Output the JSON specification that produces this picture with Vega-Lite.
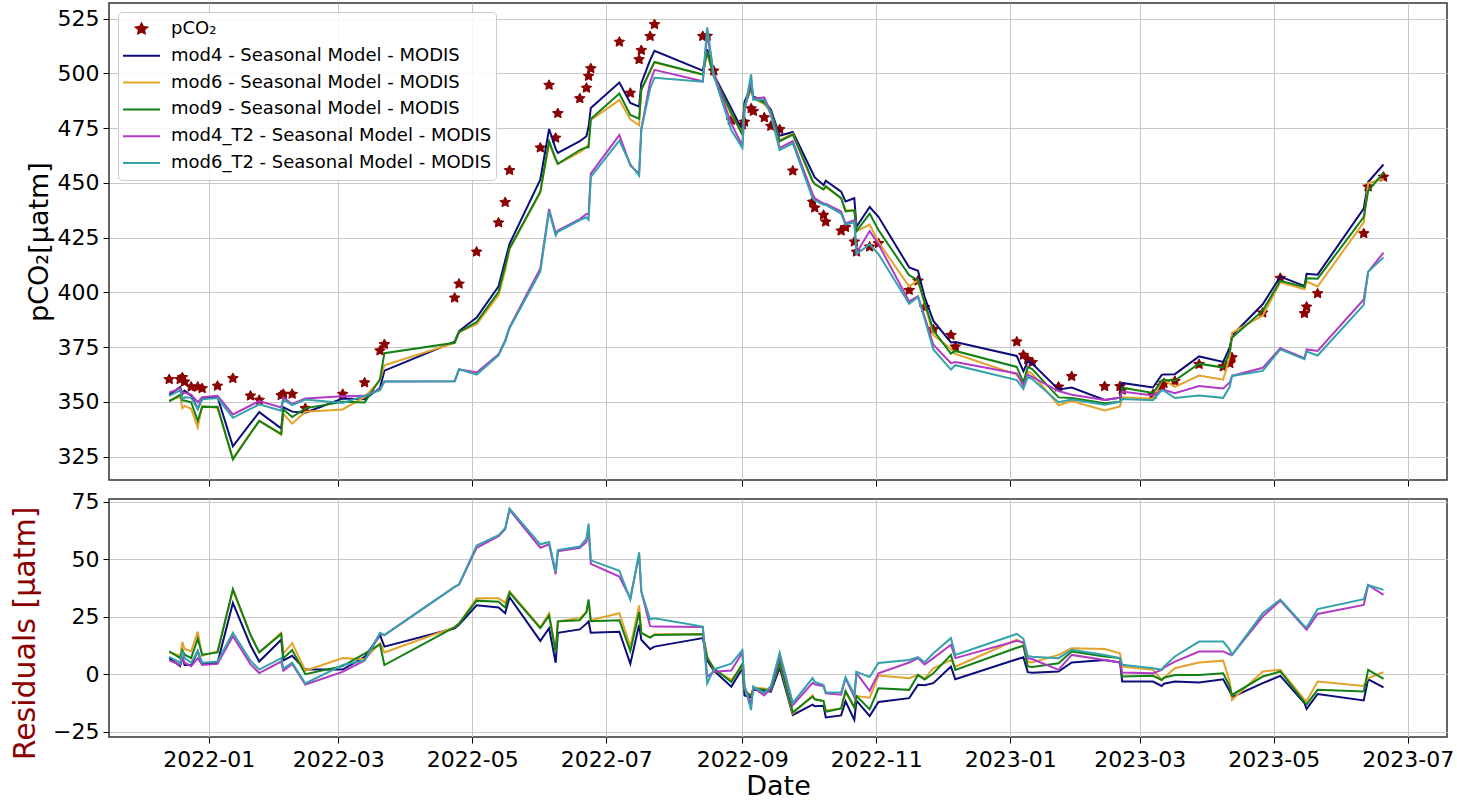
{
  "$schema": "https://vega.github.io/schema/vega-lite/v6.json",
  "background": "white",
  "padding": {"left": 9, "top": 2, "right": 0, "bottom": 0},
  "spacing": 19,
  "bounds": "flush",
  "config": {
    "font": "DejaVu Sans",
    "view": {"stroke": "#333333", "strokeWidth": 1.5},
    "axis": {
      "labelFont": "DejaVu Sans",
      "titleFont": "DejaVu Sans",
      "labelFontSize": 22,
      "titleFontSize": 27,
      "titleFontWeight": "normal",
      "labelColor": "#000000",
      "titleColor": "#000000",
      "tickColor": "#000000",
      "tickSize": 6,
      "tickWidth": 1,
      "labelPadding": 4,
      "domain": false,
      "gridColor": "#c8c8c8",
      "gridWidth": 1,
      "labelFlush": false,
      "labelOverlap": false,
      "labelBound": false
    },
    "legend": {
      "labelFont": "DejaVu Sans",
      "labelFontSize": 18,
      "labelColor": "#000000"
    }
  },
  "datasets": {
    "fit": [
      {"date": "2021-12-14", "pco2": 360.3, "mod4": 353.3, "mod6": 350.8, "mod9": 350.3, "mod4_T2": 354.3, "mod6_T2": 352.8},
      {"date": "2021-12-19", "pco2": 360.3, "mod4": 356.8, "mod6": 352.3, "mod9": 353.3, "mod4_T2": 356.3, "mod6_T2": 355.3},
      {"date": "2021-12-20", "pco2": 361.2, "mod4": 353.7, "mod6": 347.2, "mod9": 350.7, "mod4_T2": 354.2, "mod6_T2": 351.2},
      {"date": "2021-12-21", "pco2": 359.2, "mod4": 355.2, "mod6": 348.2, "mod9": 350.7, "mod4_T2": 354.2, "mod6_T2": 352.2},
      {"date": "2021-12-24", "pco2": 356.9, "mod4": 352.9, "mod6": 346.9, "mod9": 349.9, "mod4_T2": 353.4, "mod6_T2": 351.9},
      {"date": "2021-12-27", "pco2": 356.9, "mod4": 346.9, "mod6": 338.4, "mod9": 341.4, "mod4_T2": 349.9, "mod6_T2": 346.9},
      {"date": "2021-12-29", "pco2": 356.2, "mod4": 351.7, "mod6": 348.2, "mod9": 347.7, "mod4_T2": 352.2, "mod6_T2": 351.2},
      {"date": "2022-01-05", "pco2": 357.3, "mod4": 352.3, "mod6": 347.3, "mod9": 347.8, "mod4_T2": 352.8, "mod6_T2": 351.8},
      {"date": "2022-01-12", "pco2": 360.8, "mod4": 329.8, "mod6": 324.3, "mod9": 323.8, "mod4_T2": 344.3, "mod6_T2": 342.8},
      {"date": "2022-01-20", "pco2": 352.8, "mod4": 340.2, "mod6": 335.8, "mod9": 335.6, "mod4_T2": 348.4, "mod6_T2": 346.9},
      {"date": "2022-01-24", "pco2": 350.9, "mod4": 345.4, "mod6": 341.4, "mod9": 341.4, "mod4_T2": 350.4, "mod6_T2": 348.9},
      {"date": "2022-02-03", "pco2": 353.0, "mod4": 338.0, "mod6": 335.0, "mod9": 335.5, "mod4_T2": 347.5, "mod6_T2": 346.0},
      {"date": "2022-02-04", "pco2": 353.6, "mod4": 347.6, "mod6": 344.6, "mod9": 346.6, "mod4_T2": 352.1, "mod6_T2": 351.1},
      {"date": "2022-02-08", "pco2": 353.6, "mod4": 345.6, "mod6": 340.1, "mod9": 343.1, "mod4_T2": 349.1, "mod6_T2": 348.6},
      {"date": "2022-02-14", "pco2": 347.1, "mod4": 345.1, "mod6": 345.6, "mod9": 347.1, "mod4_T2": 351.6, "mod6_T2": 351.1},
      {"date": "2022-03-03", "pco2": 353.6, "mod4": 351.6, "mod6": 346.6, "mod9": 350.1, "mod4_T2": 352.6, "mod6_T2": 349.6},
      {"date": "2022-03-13", "pco2": 358.8, "mod4": 351.3, "mod6": 352.3, "mod9": 349.8, "mod4_T2": 352.8, "mod6_T2": 352.8},
      {"date": "2022-03-20", "pco2": 373.4, "mod4": 356.4, "mod6": 359.9, "mod9": 360.4, "mod4_T2": 355.9, "mod6_T2": 355.4},
      {"date": "2022-03-22", "pco2": 376.3, "mod4": 364.3, "mod6": 366.8, "mod9": 372.3, "mod4_T2": 359.3, "mod6_T2": 359.3},
      {"date": "2022-04-23", "pco2": 397.5, "mod4": 377.5, "mod6": 377.0, "mod9": 377.0, "mod4_T2": 359.5, "mod6_T2": 359.5},
      {"date": "2022-04-25", "pco2": 403.9, "mod4": 382.4, "mod6": 381.9, "mod9": 381.9, "mod4_T2": 364.9, "mod6_T2": 364.9},
      {"date": "2022-05-03", "pco2": 418.5, "mod4": 388.5, "mod6": 385.5, "mod9": 386.5, "mod4_T2": 363.5, "mod6_T2": 362.5},
      {"date": "2022-05-13", "pco2": 431.8, "mod4": 402.8, "mod6": 398.8, "mod9": 400.3, "mod4_T2": 371.8, "mod6_T2": 371.3},
      {"date": "2022-05-16", "pco2": 441.1, "mod4": 414.6, "mod6": 410.1, "mod9": 412.1, "mod4_T2": 378.1, "mod6_T2": 377.6},
      {"date": "2022-05-18", "pco2": 455.7, "mod4": 422.2, "mod6": 419.7, "mod9": 420.2, "mod4_T2": 384.2, "mod6_T2": 383.7},
      {"date": "2022-06-01", "pco2": 466.0, "mod4": 451.5, "mod6": 445.5, "mod9": 446.0, "mod4_T2": 411.0, "mod6_T2": 409.5},
      {"date": "2022-06-05", "pco2": 494.6, "mod4": 474.6, "mod6": 468.1, "mod9": 469.1, "mod4_T2": 438.1, "mod6_T2": 437.1},
      {"date": "2022-06-08", "pco2": 470.5, "mod4": 465.5, "mod6": 460.5, "mod9": 461.0, "mod4_T2": 427.0, "mod6_T2": 426.0},
      {"date": "2022-06-09", "pco2": 481.7, "mod4": 463.7, "mod6": 458.7, "mod9": 458.7, "mod4_T2": 428.2, "mod6_T2": 427.7},
      {"date": "2022-06-19", "pco2": 488.5, "mod4": 469.0, "mod6": 464.0, "mod9": 465.0, "mod4_T2": 433.5, "mod6_T2": 433.0},
      {"date": "2022-06-22", "pco2": 493.3, "mod4": 471.3, "mod6": 466.3, "mod9": 466.3, "mod4_T2": 435.8, "mod6_T2": 434.3},
      {"date": "2022-06-23", "pco2": 498.7, "mod4": 475.7, "mod6": 467.7, "mod9": 466.2, "mod4_T2": 435.7, "mod6_T2": 433.2},
      {"date": "2022-06-24", "pco2": 502.2, "mod4": 484.2, "mod6": 478.7, "mod9": 479.2, "mod4_T2": 454.2, "mod6_T2": 452.7},
      {"date": "2022-07-07", "pco2": 514.3, "mod4": 495.8, "mod6": 487.8, "mod9": 490.8, "mod4_T2": 471.8, "mod6_T2": 469.3},
      {"date": "2022-07-12", "pco2": 491.0, "mod4": 486.5, "mod6": 479.0, "mod9": 481.0, "mod4_T2": 458.0, "mod6_T2": 458.5},
      {"date": "2022-07-16", "pco2": 506.3, "mod4": 484.8, "mod6": 476.3, "mod9": 479.3, "mod4_T2": 454.3, "mod6_T2": 453.3},
      {"date": "2022-07-17", "pco2": 510.5, "mod4": 495.5, "mod6": 492.5, "mod9": 492.5, "mod4_T2": 474.5, "mod6_T2": 474.5},
      {"date": "2022-07-21", "pco2": 516.9, "mod4": 506.0, "mod6": 501.0, "mod9": 501.0, "mod4_T2": 496.0, "mod6_T2": 493.0},
      {"date": "2022-07-23", "pco2": 522.3, "mod4": 510.3, "mod6": 504.9, "mod9": 505.2, "mod4_T2": 501.6, "mod6_T2": 498.0},
      {"date": "2022-08-14", "pco2": 516.9, "mod4": 501.2, "mod6": 499.4, "mod9": 499.5, "mod4_T2": 496.4, "mod6_T2": 496.2},
      {"date": "2022-08-16", "pco2": 517.0, "mod4": 511.0, "mod6": 509.0, "mod9": 510.0, "mod4_T2": 518.0, "mod6_T2": 521.0},
      {"date": "2022-08-19", "pco2": 501.1, "mod4": 499.5, "mod6": 499.0, "mod9": 498.5, "mod4_T2": 500.0, "mod6_T2": 499.0},
      {"date": "2022-08-27", "pco2": 478.6, "mod4": 484.0, "mod6": 481.0, "mod9": 482.0, "mod4_T2": 477.0, "mod6_T2": 474.0},
      {"date": "2022-09-01", "pco2": 476.5, "mod4": 474.0, "mod6": 473.0, "mod9": 472.0, "mod4_T2": 467.0, "mod6_T2": 466.0},
      {"date": "2022-09-02", "pco2": 477.8, "mod4": 487.0, "mod6": 485.0, "mod9": 485.0, "mod4_T2": 483.0, "mod6_T2": 483.0},
      {"date": "2022-09-05", "pco2": 483.9, "mod4": 494.0, "mod6": 493.0, "mod9": 493.5, "mod4_T2": 497.0, "mod6_T2": 499.5},
      {"date": "2022-09-06", "pco2": 482.7, "mod4": 489.5, "mod6": 488.5, "mod9": 489.0, "mod4_T2": 488.5, "mod6_T2": 488.0},
      {"date": "2022-09-11", "pco2": 479.8, "mod4": 487.0, "mod6": 486.0, "mod9": 486.5, "mod4_T2": 489.0, "mod6_T2": 488.0},
      {"date": "2022-09-14", "pco2": 475.9, "mod4": 483.5, "mod6": 482.5, "mod9": 483.0, "mod4_T2": 482.0, "mod6_T2": 481.0},
      {"date": "2022-09-18", "pco2": 474.4, "mod4": 471.5, "mod6": 469.5, "mod9": 469.0, "mod4_T2": 466.0, "mod6_T2": 465.0},
      {"date": "2022-09-24", "pco2": 455.5, "mod4": 473.2, "mod6": 472.5, "mod9": 472.0, "mod4_T2": 469.0, "mod6_T2": 468.0},
      {"date": "2022-10-03", "pco2": 441.3, "mod4": 454.5, "mod6": 450.5, "mod9": 451.0, "mod4_T2": 445.0, "mod6_T2": 443.0},
      {"date": "2022-10-04", "pco2": 438.6, "mod4": 452.5, "mod6": 449.5, "mod9": 449.5, "mod4_T2": 443.0, "mod6_T2": 442.0},
      {"date": "2022-10-08", "pco2": 435.3, "mod4": 449.0, "mod6": 447.0, "mod9": 447.0, "mod4_T2": 440.5, "mod6_T2": 440.0},
      {"date": "2022-10-09", "pco2": 432.2, "mod4": 451.0, "mod6": 448.0, "mod9": 448.5, "mod4_T2": 440.5, "mod6_T2": 440.0},
      {"date": "2022-10-16", "pco2": 428.1, "mod4": 446.0, "mod6": 443.0, "mod9": 443.0, "mod4_T2": 437.0, "mod6_T2": 436.0},
      {"date": "2022-10-18", "pco2": 429.7, "mod4": 441.5, "mod6": 437.5, "mod9": 437.0, "mod4_T2": 431.5, "mod6_T2": 431.0},
      {"date": "2022-10-22", "pco2": 423.1, "mod4": 443.0, "mod6": 437.5, "mod9": 437.5, "mod4_T2": 433.0, "mod6_T2": 432.0},
      {"date": "2022-10-23", "pco2": 418.5, "mod4": 430.0, "mod6": 428.0, "mod9": 428.0, "mod4_T2": 418.0, "mod6_T2": 417.5},
      {"date": "2022-10-29", "pco2": 420.8, "mod4": 439.0, "mod6": 431.0, "mod9": 436.0, "mod4_T2": 428.0, "mod6_T2": 422.0},
      {"date": "2022-11-02", "pco2": 422.4, "mod4": 434.5, "mod6": 423.0, "mod9": 428.5, "mod4_T2": 422.0, "mod6_T2": 417.5},
      {"date": "2022-11-16", "pco2": 401.0, "mod4": 411.4, "mod6": 402.7, "mod9": 407.8, "mod4_T2": 395.9, "mod6_T2": 394.8},
      {"date": "2022-11-20", "pco2": 405.3, "mod4": 409.9, "mod6": 405.6, "mod9": 405.6, "mod4_T2": 398.3, "mod6_T2": 397.9},
      {"date": "2022-11-23", "pco2": 393.2, "mod4": 398.0, "mod6": 395.0, "mod9": 395.5, "mod4_T2": 389.0, "mod6_T2": 388.0},
      {"date": "2022-11-27", "pco2": 383.1, "mod4": 387.0, "mod6": 380.5, "mod9": 382.7, "mod4_T2": 376.1, "mod6_T2": 374.0},
      {"date": "2022-12-05", "pco2": 380.5, "mod4": 377.2, "mod6": 374.3, "mod9": 372.1, "mod4_T2": 367.7, "mod6_T2": 364.8},
      {"date": "2022-12-07", "pco2": 375.2, "mod4": 377.4, "mod6": 371.9, "mod9": 373.3, "mod4_T2": 368.2, "mod6_T2": 366.8},
      {"date": "2023-01-04", "pco2": 377.5, "mod4": 371.0, "mod6": 362.5, "mod9": 366.0, "mod4_T2": 363.0, "mod6_T2": 360.0},
      {"date": "2023-01-07", "pco2": 371.4, "mod4": 364.0, "mod6": 358.0, "mod9": 359.0, "mod4_T2": 357.5, "mod6_T2": 356.0},
      {"date": "2023-01-09", "pco2": 369.4, "mod4": 368.5, "mod6": 364.0, "mod9": 366.0, "mod4_T2": 362.5, "mod6_T2": 361.5},
      {"date": "2023-01-11", "pco2": 368.1, "mod4": 367.5, "mod6": 363.0, "mod9": 365.0, "mod4_T2": 361.5, "mod6_T2": 360.5},
      {"date": "2023-01-23", "pco2": 356.9, "mod4": 355.7, "mod6": 348.5, "mod9": 352.1, "mod4_T2": 355.0, "mod6_T2": 349.9},
      {"date": "2023-01-29", "pco2": 361.7, "mod4": 356.6, "mod6": 350.4, "mod9": 351.8, "mod4_T2": 353.3, "mod6_T2": 351.1},
      {"date": "2023-02-13", "pco2": 357.1, "mod4": 350.9, "mod6": 346.1, "mod9": 349.4, "mod4_T2": 350.9, "mod6_T2": 348.7},
      {"date": "2023-02-20", "pco2": 357.1, "mod4": 352.0, "mod6": 348.0, "mod9": 350.1, "mod4_T2": 352.0, "mod6_T2": 350.1},
      {"date": "2023-02-21", "pco2": 355.5, "mod4": 358.7, "mod6": 352.2, "mod9": 356.5, "mod4_T2": 354.8, "mod6_T2": 351.4},
      {"date": "2023-03-07", "pco2": 353.4, "mod4": 356.6, "mod6": 351.5, "mod9": 354.1, "mod4_T2": 353.0, "mod6_T2": 350.8},
      {"date": "2023-03-11", "pco2": 357.3, "mod4": 362.4, "mod6": 359.8, "mod9": 359.8, "mod4_T2": 355.4, "mod6_T2": 355.4},
      {"date": "2023-03-12", "pco2": 358.5, "mod4": 362.6, "mod6": 360.0, "mod9": 360.0, "mod4_T2": 355.6, "mod6_T2": 355.2},
      {"date": "2023-03-17", "pco2": 359.5, "mod4": 362.7, "mod6": 356.9, "mod9": 359.8, "mod4_T2": 354.0, "mod6_T2": 351.8},
      {"date": "2023-03-28", "pco2": 367.2, "mod4": 370.8, "mod6": 362.1, "mod9": 367.5, "mod4_T2": 357.3, "mod6_T2": 353.0},
      {"date": "2023-04-08", "pco2": 366.1, "mod4": 368.3, "mod6": 360.2, "mod9": 365.7, "mod4_T2": 356.2, "mod6_T2": 351.9},
      {"date": "2023-04-11", "pco2": 367.6, "mod4": 375.0, "mod6": 371.0, "mod9": 373.0, "mod4_T2": 359.0, "mod6_T2": 357.0},
      {"date": "2023-04-12", "pco2": 370.3, "mod4": 380.3, "mod6": 381.5, "mod9": 379.3, "mod4_T2": 361.9, "mod6_T2": 361.9},
      {"date": "2023-04-26", "pco2": 390.7, "mod4": 394.6, "mod6": 389.5, "mod9": 391.7, "mod4_T2": 365.6, "mod6_T2": 364.2},
      {"date": "2023-05-04", "pco2": 406.5, "mod4": 407.2, "mod6": 404.6, "mod9": 405.3, "mod4_T2": 374.5, "mod6_T2": 374.0},
      {"date": "2023-05-15", "pco2": 390.4, "mod4": 403.0, "mod6": 401.5, "mod9": 402.5, "mod4_T2": 370.0, "mod6_T2": 369.5},
      {"date": "2023-05-16", "pco2": 393.4, "mod4": 408.5, "mod6": 405.0, "mod9": 406.5, "mod4_T2": 374.0, "mod6_T2": 373.0},
      {"date": "2023-05-21", "pco2": 399.5, "mod4": 408.1, "mod6": 402.7, "mod9": 406.3, "mod4_T2": 373.3, "mod6_T2": 371.2},
      {"date": "2023-06-11", "pco2": 426.9, "mod4": 438.3, "mod6": 432.0, "mod9": 434.4, "mod4_T2": 396.8, "mod6_T2": 394.3},
      {"date": "2023-06-13", "pco2": 448.2, "mod4": 450.4, "mod6": 449.9, "mod9": 446.3, "mod4_T2": 409.4, "mod6_T2": 409.4},
      {"date": "2023-06-20", "pco2": 452.7, "mod4": 458.4, "mod6": 451.8, "mod9": 454.7, "mod4_T2": 418.2, "mod6_T2": 416.0}
    ],
    "resid": [
      {"date": "2021-12-14", "mod4": 7.0, "mod6": 9.5, "mod9": 10.0, "mod4_T2": 6.0, "mod6_T2": 7.5},
      {"date": "2021-12-19", "mod4": 3.5, "mod6": 8.0, "mod9": 7.0, "mod4_T2": 4.0, "mod6_T2": 5.0},
      {"date": "2021-12-20", "mod4": 7.5, "mod6": 14.0, "mod9": 10.5, "mod4_T2": 7.0, "mod6_T2": 10.0},
      {"date": "2021-12-21", "mod4": 4.0, "mod6": 11.0, "mod9": 8.5, "mod4_T2": 5.0, "mod6_T2": 7.0},
      {"date": "2021-12-24", "mod4": 4.0, "mod6": 10.0, "mod9": 7.0, "mod4_T2": 3.5, "mod6_T2": 5.0},
      {"date": "2021-12-27", "mod4": 10.0, "mod6": 18.5, "mod9": 15.5, "mod4_T2": 7.0, "mod6_T2": 10.0},
      {"date": "2021-12-29", "mod4": 4.5, "mod6": 8.0, "mod9": 8.5, "mod4_T2": 4.0, "mod6_T2": 5.0},
      {"date": "2022-01-05", "mod4": 5.0, "mod6": 10.0, "mod9": 9.5, "mod4_T2": 4.5, "mod6_T2": 5.5},
      {"date": "2022-01-12", "mod4": 31.0, "mod6": 36.5, "mod9": 37.0, "mod4_T2": 16.5, "mod6_T2": 18.0},
      {"date": "2022-01-20", "mod4": 12.6, "mod6": 17.0, "mod9": 17.2, "mod4_T2": 4.4, "mod6_T2": 5.9},
      {"date": "2022-01-24", "mod4": 5.5, "mod6": 9.5, "mod9": 9.5, "mod4_T2": 0.5, "mod6_T2": 2.0},
      {"date": "2022-02-03", "mod4": 15.0, "mod6": 18.0, "mod9": 17.5, "mod4_T2": 5.5, "mod6_T2": 7.0},
      {"date": "2022-02-04", "mod4": 6.0, "mod6": 9.0, "mod9": 7.0, "mod4_T2": 1.5, "mod6_T2": 2.5},
      {"date": "2022-02-08", "mod4": 8.0, "mod6": 13.5, "mod9": 10.5, "mod4_T2": 4.5, "mod6_T2": 5.0},
      {"date": "2022-02-14", "mod4": 2.0, "mod6": 1.5, "mod9": 0.0, "mod4_T2": -4.5, "mod6_T2": -4.0},
      {"date": "2022-03-03", "mod4": 2.0, "mod6": 7.0, "mod9": 3.5, "mod4_T2": 1.0, "mod6_T2": 4.0},
      {"date": "2022-03-13", "mod4": 7.5, "mod6": 6.5, "mod9": 9.0, "mod4_T2": 6.0, "mod6_T2": 6.0},
      {"date": "2022-03-20", "mod4": 17.0, "mod6": 13.5, "mod9": 13.0, "mod4_T2": 17.5, "mod6_T2": 18.0},
      {"date": "2022-03-22", "mod4": 12.0, "mod6": 9.5, "mod9": 4.0, "mod4_T2": 17.0, "mod6_T2": 17.0},
      {"date": "2022-04-23", "mod4": 20.0, "mod6": 20.5, "mod9": 20.5, "mod4_T2": 38.0, "mod6_T2": 38.0},
      {"date": "2022-04-25", "mod4": 21.5, "mod6": 22.0, "mod9": 22.0, "mod4_T2": 39.0, "mod6_T2": 39.0},
      {"date": "2022-05-03", "mod4": 30.0, "mod6": 33.0, "mod9": 32.0, "mod4_T2": 55.0, "mod6_T2": 56.0},
      {"date": "2022-05-13", "mod4": 29.0, "mod6": 33.0, "mod9": 31.5, "mod4_T2": 60.0, "mod6_T2": 60.5},
      {"date": "2022-05-16", "mod4": 26.5, "mod6": 31.0, "mod9": 29.0, "mod4_T2": 63.0, "mod6_T2": 63.5},
      {"date": "2022-05-18", "mod4": 33.5, "mod6": 36.0, "mod9": 35.5, "mod4_T2": 71.5, "mod6_T2": 72.0},
      {"date": "2022-06-01", "mod4": 14.5, "mod6": 20.5, "mod9": 20.0, "mod4_T2": 55.0, "mod6_T2": 56.5},
      {"date": "2022-06-05", "mod4": 20.0, "mod6": 26.5, "mod9": 25.5, "mod4_T2": 56.5, "mod6_T2": 57.5},
      {"date": "2022-06-08", "mod4": 5.0, "mod6": 10.0, "mod9": 9.5, "mod4_T2": 43.5, "mod6_T2": 44.5},
      {"date": "2022-06-09", "mod4": 18.0, "mod6": 23.0, "mod9": 23.0, "mod4_T2": 53.5, "mod6_T2": 54.0},
      {"date": "2022-06-19", "mod4": 19.5, "mod6": 24.5, "mod9": 23.5, "mod4_T2": 55.0, "mod6_T2": 55.5},
      {"date": "2022-06-22", "mod4": 22.0, "mod6": 27.0, "mod9": 27.0, "mod4_T2": 57.5, "mod6_T2": 59.0},
      {"date": "2022-06-23", "mod4": 23.0, "mod6": 31.0, "mod9": 32.5, "mod4_T2": 63.0, "mod6_T2": 65.5},
      {"date": "2022-06-24", "mod4": 18.0, "mod6": 23.5, "mod9": 23.0, "mod4_T2": 48.0, "mod6_T2": 49.5},
      {"date": "2022-07-07", "mod4": 18.5, "mod6": 26.5, "mod9": 23.5, "mod4_T2": 42.5, "mod6_T2": 45.0},
      {"date": "2022-07-12", "mod4": 4.5, "mod6": 12.0, "mod9": 10.0, "mod4_T2": 33.0, "mod6_T2": 32.5},
      {"date": "2022-07-16", "mod4": 21.5, "mod6": 30.0, "mod9": 27.0, "mod4_T2": 52.0, "mod6_T2": 53.0},
      {"date": "2022-07-17", "mod4": 15.0, "mod6": 18.0, "mod9": 18.0, "mod4_T2": 36.0, "mod6_T2": 36.0},
      {"date": "2022-07-21", "mod4": 10.9, "mod6": 15.9, "mod9": 15.9, "mod4_T2": 20.9, "mod6_T2": 23.9},
      {"date": "2022-07-23", "mod4": 12.0, "mod6": 17.4, "mod9": 17.1, "mod4_T2": 20.7, "mod6_T2": 24.3},
      {"date": "2022-08-14", "mod4": 15.7, "mod6": 17.5, "mod9": 17.4, "mod4_T2": 20.5, "mod6_T2": 20.7},
      {"date": "2022-08-16", "mod4": 6.0, "mod6": 8.0, "mod9": 7.0, "mod4_T2": -1.0, "mod6_T2": -4.0},
      {"date": "2022-08-19", "mod4": 1.6, "mod6": 2.1, "mod9": 2.6, "mod4_T2": 1.1, "mod6_T2": 2.1},
      {"date": "2022-08-27", "mod4": -5.4, "mod6": -2.4, "mod9": -3.4, "mod4_T2": 1.6, "mod6_T2": 4.6},
      {"date": "2022-09-01", "mod4": 2.5, "mod6": 3.5, "mod9": 4.5, "mod4_T2": 9.5, "mod6_T2": 10.5},
      {"date": "2022-09-02", "mod4": -9.2, "mod6": -7.2, "mod9": -7.2, "mod4_T2": -5.2, "mod6_T2": -5.2},
      {"date": "2022-09-05", "mod4": -10.1, "mod6": -9.1, "mod9": -9.6, "mod4_T2": -13.1, "mod6_T2": -15.6},
      {"date": "2022-09-06", "mod4": -6.8, "mod6": -5.8, "mod9": -6.3, "mod4_T2": -5.8, "mod6_T2": -5.3},
      {"date": "2022-09-11", "mod4": -7.2, "mod6": -6.2, "mod9": -6.7, "mod4_T2": -9.2, "mod6_T2": -8.2},
      {"date": "2022-09-14", "mod4": -7.6, "mod6": -6.6, "mod9": -7.1, "mod4_T2": -6.1, "mod6_T2": -5.1},
      {"date": "2022-09-18", "mod4": 2.9, "mod6": 4.9, "mod9": 5.4, "mod4_T2": 8.4, "mod6_T2": 9.4},
      {"date": "2022-09-24", "mod4": -17.7, "mod6": -17.0, "mod9": -16.5, "mod4_T2": -13.5, "mod6_T2": -12.5},
      {"date": "2022-10-03", "mod4": -13.2, "mod6": -9.2, "mod9": -9.7, "mod4_T2": -3.7, "mod6_T2": -1.7},
      {"date": "2022-10-04", "mod4": -13.9, "mod6": -10.9, "mod9": -10.9, "mod4_T2": -4.4, "mod6_T2": -3.4},
      {"date": "2022-10-08", "mod4": -13.7, "mod6": -11.7, "mod9": -11.7, "mod4_T2": -5.2, "mod6_T2": -4.7},
      {"date": "2022-10-09", "mod4": -18.8, "mod6": -15.8, "mod9": -16.3, "mod4_T2": -8.3, "mod6_T2": -7.8},
      {"date": "2022-10-16", "mod4": -17.9, "mod6": -14.9, "mod9": -14.9, "mod4_T2": -8.9, "mod6_T2": -7.9},
      {"date": "2022-10-18", "mod4": -11.8, "mod6": -7.8, "mod9": -7.3, "mod4_T2": -1.8, "mod6_T2": -1.3},
      {"date": "2022-10-22", "mod4": -19.9, "mod6": -14.4, "mod9": -14.4, "mod4_T2": -9.9, "mod6_T2": -8.9},
      {"date": "2022-10-23", "mod4": -11.5, "mod6": -9.5, "mod9": -9.5, "mod4_T2": 0.5, "mod6_T2": 1.0},
      {"date": "2022-10-29", "mod4": -18.2, "mod6": -10.2, "mod9": -15.2, "mod4_T2": -7.2, "mod6_T2": -1.2},
      {"date": "2022-11-02", "mod4": -12.1, "mod6": -0.6, "mod9": -6.1, "mod4_T2": 0.4, "mod6_T2": 4.9},
      {"date": "2022-11-16", "mod4": -10.4, "mod6": -1.7, "mod9": -6.8, "mod4_T2": 5.1, "mod6_T2": 6.2},
      {"date": "2022-11-20", "mod4": -4.6, "mod6": -0.3, "mod9": -0.3, "mod4_T2": 7.0, "mod6_T2": 7.4},
      {"date": "2022-11-23", "mod4": -4.8, "mod6": -1.8, "mod9": -2.3, "mod4_T2": 4.2, "mod6_T2": 5.2},
      {"date": "2022-11-27", "mod4": -3.9, "mod6": 2.6, "mod9": 0.4, "mod4_T2": 7.0, "mod6_T2": 9.1},
      {"date": "2022-12-05", "mod4": 3.3, "mod6": 6.2, "mod9": 8.4, "mod4_T2": 12.8, "mod6_T2": 15.7},
      {"date": "2022-12-07", "mod4": -2.2, "mod6": 3.3, "mod9": 1.9, "mod4_T2": 7.0, "mod6_T2": 8.4},
      {"date": "2023-01-04", "mod4": 6.5, "mod6": 15.0, "mod9": 11.5, "mod4_T2": 14.5, "mod6_T2": 17.5},
      {"date": "2023-01-07", "mod4": 7.4, "mod6": 13.4, "mod9": 12.4, "mod4_T2": 13.9, "mod6_T2": 15.4},
      {"date": "2023-01-09", "mod4": 0.9, "mod6": 5.4, "mod9": 3.4, "mod4_T2": 6.9, "mod6_T2": 7.9},
      {"date": "2023-01-11", "mod4": 0.6, "mod6": 5.1, "mod9": 3.1, "mod4_T2": 6.6, "mod6_T2": 7.6},
      {"date": "2023-01-23", "mod4": 1.2, "mod6": 8.4, "mod9": 4.8, "mod4_T2": 1.9, "mod6_T2": 7.0},
      {"date": "2023-01-29", "mod4": 5.1, "mod6": 11.3, "mod9": 9.9, "mod4_T2": 8.4, "mod6_T2": 10.6},
      {"date": "2023-02-13", "mod4": 6.2, "mod6": 11.0, "mod9": 7.7, "mod4_T2": 6.2, "mod6_T2": 8.4},
      {"date": "2023-02-20", "mod4": 5.1, "mod6": 9.1, "mod9": 7.0, "mod4_T2": 5.1, "mod6_T2": 7.0},
      {"date": "2023-02-21", "mod4": -3.2, "mod6": 3.3, "mod9": -1.0, "mod4_T2": 0.7, "mod6_T2": 4.1},
      {"date": "2023-03-07", "mod4": -3.2, "mod6": 1.9, "mod9": -0.7, "mod4_T2": 0.4, "mod6_T2": 2.6},
      {"date": "2023-03-11", "mod4": -5.1, "mod6": -2.5, "mod9": -2.5, "mod4_T2": 1.9, "mod6_T2": 1.9},
      {"date": "2023-03-12", "mod4": -4.1, "mod6": -1.5, "mod9": -1.5, "mod4_T2": 2.9, "mod6_T2": 3.3},
      {"date": "2023-03-17", "mod4": -3.2, "mod6": 2.6, "mod9": -0.3, "mod4_T2": 5.5, "mod6_T2": 7.7},
      {"date": "2023-03-28", "mod4": -3.6, "mod6": 5.1, "mod9": -0.3, "mod4_T2": 9.9, "mod6_T2": 14.2},
      {"date": "2023-04-08", "mod4": -2.2, "mod6": 5.9, "mod9": 0.4, "mod4_T2": 9.9, "mod6_T2": 14.2},
      {"date": "2023-04-11", "mod4": -7.4, "mod6": -3.4, "mod9": -5.4, "mod4_T2": 8.6, "mod6_T2": 10.6},
      {"date": "2023-04-12", "mod4": -10.0, "mod6": -11.2, "mod9": -9.0, "mod4_T2": 8.4, "mod6_T2": 8.4},
      {"date": "2023-04-26", "mod4": -3.9, "mod6": 1.2, "mod9": -1.0, "mod4_T2": 25.1, "mod6_T2": 26.5},
      {"date": "2023-05-04", "mod4": -0.7, "mod6": 1.9, "mod9": 1.2, "mod4_T2": 32.0, "mod6_T2": 32.5},
      {"date": "2023-05-15", "mod4": -12.6, "mod6": -11.1, "mod9": -12.1, "mod4_T2": 20.4, "mod6_T2": 20.9},
      {"date": "2023-05-16", "mod4": -15.1, "mod6": -11.6, "mod9": -13.1, "mod4_T2": 19.4, "mod6_T2": 20.4},
      {"date": "2023-05-21", "mod4": -8.6, "mod6": -3.2, "mod9": -6.8, "mod4_T2": 26.2, "mod6_T2": 28.3},
      {"date": "2023-06-11", "mod4": -11.4, "mod6": -5.1, "mod9": -7.5, "mod4_T2": 30.1, "mod6_T2": 32.6},
      {"date": "2023-06-13", "mod4": -2.2, "mod6": -1.7, "mod9": 1.9, "mod4_T2": 38.8, "mod6_T2": 38.8},
      {"date": "2023-06-20", "mod4": -5.7, "mod6": 0.9, "mod9": -2.0, "mod4_T2": 34.5, "mod6_T2": 36.7}
    ]
  },
  "vconcat": [
    {
      "width": 1338,
      "height": 477,
      "data": {"name": "fit"},
      "transform": [
        {"fold": ["pco2", "mod4", "mod6", "mod9", "mod4_T2", "mod6_T2"], "as": ["series", "value"]}
      ],
      "encoding": {
        "x": {
          "field": "date",
          "type": "temporal",
          "scale": {
            "type": "utc",
            "domain": [
              {"year": 2021, "month": 11, "date": 16, "hours": 14, "utc": true},
              {"year": 2023, "month": 7, "date": 18, "hours": 22, "utc": true}
            ]
          },
          "axis": {
            "title": null,
            "labels": false,
            "grid": true,
            "values": [
              {"year": 2022, "month": 1, "date": 1, "utc": true},
              {"year": 2022, "month": 3, "date": 1, "utc": true},
              {"year": 2022, "month": 5, "date": 1, "utc": true},
              {"year": 2022, "month": 7, "date": 1, "utc": true},
              {"year": 2022, "month": 9, "date": 1, "utc": true},
              {"year": 2022, "month": 11, "date": 1, "utc": true},
              {"year": 2023, "month": 1, "date": 1, "utc": true},
              {"year": 2023, "month": 3, "date": 1, "utc": true},
              {"year": 2023, "month": 5, "date": 1, "utc": true},
              {"year": 2023, "month": 7, "date": 1, "utc": true}
            ]
          }
        },
        "y": {
          "field": "value",
          "type": "quantitative",
          "scale": {"domain": [314.4, 532.1], "nice": false, "zero": false},
          "axis": {
            "title": "pCO₂[μatm]",
            "titleFontSize": 27,
            "titlePadding": 4,
            "grid": true,
            "values": [325, 350, 375, 400, 425, 450, 475, 500, 525]
          }
        },
        "color": {
          "field": "series",
          "type": "nominal",
          "scale": {
            "domain": ["pco2", "mod4", "mod6", "mod9", "mod4_T2", "mod6_T2"],
            "range": ["#8b0000", "#0c0c7a", "#e3a32a", "#138013", "#b23ac6", "#33a2aa"]
          },
          "legend": {
            "title": null,
            "orient": "top-left",
            "offset": 9,
            "padding": 4,
            "rowPadding": 0.8,
            "clipHeight": 26,
            "labelOffset": 10,
            "labelLimit": 600,
            "symbolSize": 1369,
            "symbolStrokeWidth": 2,
            "fillColor": "rgba(255,255,255,0.85)",
            "strokeColor": "#cccccc",
            "cornerRadius": 4,
            "labelExpr": "datum.value === 'pco2' ? 'pCO₂' : datum.value + ' - Seasonal Model - MODIS'"
          }
        }
      },
      "layer": [
        {
          "transform": [{"filter": {"field": "series", "equal": "pco2"}}],
          "mark": {"type": "point", "filled": false, "size": 1369, "strokeWidth": 1, "opacity": 1},
          "encoding": {
            "shape": {
              "field": "series",
              "type": "nominal",
              "scale": {
                "domain": ["pco2", "mod4", "mod6", "mod9", "mod4_T2", "mod6_T2"],
                "range": [
                  "M0,.145L.174,.232L.145,.029L.29,-.087L.087,-.116L0,-.29L-.087,-.116L-.29,-.087L-.145,.029L-.174,.232L0,.145Z",
                  "stroke", "stroke", "stroke", "stroke", "stroke"
                ]
              },
              "legend": {"title": null}
            },
            "fill": {"value": "#8b0000"}
          }
        },
        {
          "transform": [{"filter": {"not": {"field": "series", "equal": "pco2"}}}],
          "mark": {"type": "line", "strokeWidth": 2}
        }
      ]
    },
    {
      "width": 1338,
      "height": 238,
      "data": {"name": "resid"},
      "transform": [
        {"fold": ["mod4", "mod6", "mod9", "mod4_T2", "mod6_T2"], "as": ["series", "value"]}
      ],
      "mark": {"type": "line", "strokeWidth": 2},
      "encoding": {
        "x": {
          "field": "date",
          "type": "temporal",
          "scale": {
            "type": "utc",
            "domain": [
              {"year": 2021, "month": 11, "date": 16, "hours": 14, "utc": true},
              {"year": 2023, "month": 7, "date": 18, "hours": 22, "utc": true}
            ]
          },
          "axis": {
            "title": "Date",
            "format": "%Y-%m",
            "labelPadding": 6,
            "titlePadding": 3,
            "grid": true,
            "values": [
              {"year": 2022, "month": 1, "date": 1, "utc": true},
              {"year": 2022, "month": 3, "date": 1, "utc": true},
              {"year": 2022, "month": 5, "date": 1, "utc": true},
              {"year": 2022, "month": 7, "date": 1, "utc": true},
              {"year": 2022, "month": 9, "date": 1, "utc": true},
              {"year": 2022, "month": 11, "date": 1, "utc": true},
              {"year": 2023, "month": 1, "date": 1, "utc": true},
              {"year": 2023, "month": 3, "date": 1, "utc": true},
              {"year": 2023, "month": 5, "date": 1, "utc": true},
              {"year": 2023, "month": 7, "date": 1, "utc": true}
            ]
          }
        },
        "y": {
          "field": "value",
          "type": "quantitative",
          "scale": {"domain": [-27.3, 76.2], "nice": false, "zero": false},
          "axis": {
            "title": "Residuals [μatm]",
            "titleColor": "#8b0000",
            "titleFontSize": 30,
            "titlePadding": 12,
            "titleY": 134,
            "grid": true,
            "values": [-25, 0, 25, 50, 75]
          }
        },
        "color": {
          "field": "series",
          "type": "nominal",
          "scale": {
            "domain": ["pco2", "mod4", "mod6", "mod9", "mod4_T2", "mod6_T2"],
            "range": ["#8b0000", "#0c0c7a", "#e3a32a", "#138013", "#b23ac6", "#33a2aa"]
          },
          "legend": null
        }
      }
    }
  ]
}
